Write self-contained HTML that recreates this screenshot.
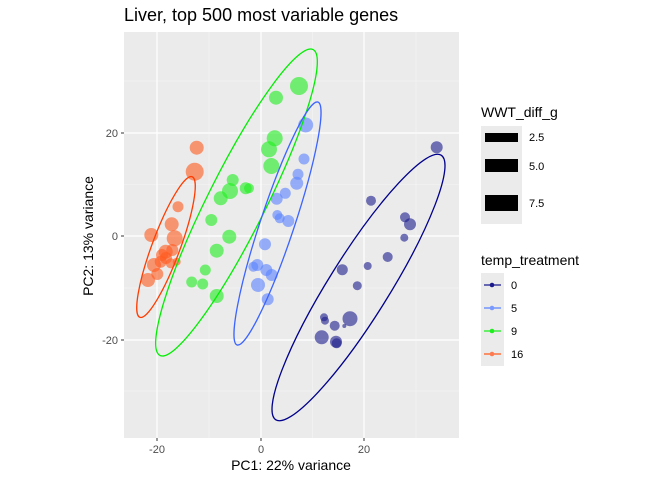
<!DOCTYPE html>
<html><head><style>body{margin:0;background:#fff}svg{display:block;font-family:"Liberation Sans",sans-serif}</style></head><body>
<svg width="672" height="480" viewBox="0 0 672 480">
<text x="124" y="21" font-size="18" fill="#000">Liver, top 500 most variable genes</text>
<rect x="124" y="32" width="335" height="406" fill="#ebebeb"/>
<g stroke="#f5f5f5" stroke-width="0.6">
<line x1="209" y1="32" x2="209" y2="438"/><line x1="312.5" y1="32" x2="312.5" y2="438"/><line x1="416" y1="32" x2="416" y2="438"/>
<line x1="124" y1="81" x2="459" y2="81"/><line x1="124" y1="184.5" x2="459" y2="184.5"/><line x1="124" y1="288" x2="459" y2="288"/><line x1="124" y1="391" x2="459" y2="391"/>
</g>
<g stroke="#fff" stroke-width="1.2">
<line x1="157" y1="32" x2="157" y2="438"/><line x1="261" y1="32" x2="261" y2="438"/><line x1="364" y1="32" x2="364" y2="438"/>
<line x1="124" y1="133" x2="459" y2="133"/><line x1="124" y1="236" x2="459" y2="236"/><line x1="124" y1="340" x2="459" y2="340"/>
</g>
<g fill="#ff5a1e" fill-opacity="0.6">
<circle cx="196.7" cy="147.7" r="7"/><circle cx="194.7" cy="171.7" r="9"/><circle cx="178" cy="206.7" r="5.5"/><circle cx="171.7" cy="224.3" r="7"/><circle cx="151.3" cy="235" r="7"/><circle cx="174.7" cy="238.3" r="8"/><circle cx="165.7" cy="251.7" r="7"/><circle cx="172.3" cy="250" r="6"/><circle cx="160.7" cy="261.7" r="6"/><circle cx="154" cy="265" r="7"/><circle cx="176.7" cy="261.7" r="4"/><circle cx="170.7" cy="263.3" r="5"/><circle cx="157.3" cy="274" r="6"/><circle cx="148" cy="280" r="7"/><circle cx="162" cy="255" r="6"/><circle cx="166" cy="258" r="6"/>
</g>
<g fill="#1eee1e" fill-opacity="0.6">
<circle cx="299" cy="86" r="9"/><circle cx="276" cy="97.7" r="7"/><circle cx="274.7" cy="138.3" r="8"/><circle cx="269" cy="149.3" r="8"/><circle cx="271.3" cy="166" r="8"/><circle cx="232.7" cy="180" r="6"/><circle cx="230" cy="191" r="8"/><circle cx="220.7" cy="198.3" r="7"/><circle cx="245.7" cy="188.3" r="6"/><circle cx="249" cy="188.3" r="5"/><circle cx="211.3" cy="220" r="6"/><circle cx="229.3" cy="236.7" r="7"/><circle cx="216.7" cy="250.7" r="7"/><circle cx="205.3" cy="270" r="5.5"/><circle cx="191.7" cy="282" r="5.5"/><circle cx="202.7" cy="284" r="5.5"/><circle cx="216.7" cy="296" r="7"/>
</g>
<g fill="#5a82ff" fill-opacity="0.6">
<circle cx="305.7" cy="125" r="7.5"/><circle cx="304" cy="159" r="5.5"/><circle cx="298" cy="174.3" r="5.5"/><circle cx="296.7" cy="183.3" r="6.5"/><circle cx="285.3" cy="193.3" r="5.5"/><circle cx="276.7" cy="198.7" r="6"/><circle cx="277.3" cy="215" r="5"/><circle cx="279.7" cy="218.3" r="5"/><circle cx="288.3" cy="221" r="6"/><circle cx="265" cy="244.3" r="6"/><circle cx="257.3" cy="265" r="6"/><circle cx="253.3" cy="266.7" r="5"/><circle cx="266.3" cy="270" r="6"/><circle cx="271.7" cy="275" r="6"/><circle cx="258" cy="285" r="7"/><circle cx="267.7" cy="299.3" r="6"/>
</g>
<g fill="#1a1a8c" fill-opacity="0.6">
<circle cx="436.7" cy="147.3" r="6"/><circle cx="371" cy="200.7" r="5"/><circle cx="405" cy="217.3" r="5"/><circle cx="410" cy="224.3" r="6"/><circle cx="404.3" cy="237.7" r="4"/><circle cx="387.7" cy="257" r="5"/><circle cx="367.7" cy="266" r="4"/><circle cx="342.3" cy="269.7" r="5.5"/><circle cx="357.3" cy="285.7" r="4.5"/><circle cx="350" cy="318.7" r="7.5"/><circle cx="324" cy="317.3" r="4"/><circle cx="325" cy="320.7" r="4"/><circle cx="334.7" cy="325.7" r="5"/><circle cx="344.3" cy="326" r="2"/><circle cx="321.7" cy="337.3" r="7"/><circle cx="336" cy="341.7" r="6"/><circle cx="336.7" cy="343.3" r="5"/>
</g>
<g fill="none" stroke-width="1.3">
<ellipse cx="166" cy="247" rx="75" ry="14" transform="rotate(-69.6 166 247)" stroke="#ff3c00"/>
<ellipse cx="236.5" cy="202.5" rx="171" ry="29" transform="rotate(-63.4 236.5 202.5)" stroke="#00ee00"/>
<ellipse cx="277.5" cy="223.5" rx="128" ry="17" transform="rotate(-71.6 277.5 223.5)" stroke="#3c64ff"/>
<ellipse cx="358.5" cy="287.5" rx="156" ry="30" transform="rotate(-58 358.5 287.5)" stroke="#00008b"/>
</g>
<g stroke="#333" stroke-width="1">
<line x1="157" y1="438" x2="157" y2="441"/><line x1="261" y1="438" x2="261" y2="441"/><line x1="364" y1="438" x2="364" y2="441"/>
<line x1="121" y1="133" x2="124" y2="133"/><line x1="121" y1="236" x2="124" y2="236"/><line x1="121" y1="340" x2="124" y2="340"/>
</g>
<g font-size="11" fill="#4d4d4d">
<text x="157" y="453" text-anchor="middle">-20</text><text x="261" y="453" text-anchor="middle">0</text><text x="364" y="453" text-anchor="middle">20</text>
<text x="118" y="137" text-anchor="end">20</text><text x="118" y="240" text-anchor="end">0</text><text x="118" y="344" text-anchor="end">-20</text>
</g>
<text x="291" y="470" font-size="14" text-anchor="middle">PC1: 22% variance</text>
<text transform="translate(93 236) rotate(-90)" font-size="14" text-anchor="middle">PC2: 13% variance</text>
<text x="481" y="117" font-size="14">WWT_diff_g</text>
<rect x="481" y="126" width="41" height="98" fill="#ebebeb"/>
<rect x="485" y="133" width="33" height="9" fill="#000"/>
<rect x="485" y="159" width="33" height="13" fill="#000"/>
<rect x="485" y="195" width="33" height="16" fill="#000"/>
<g font-size="11"><text x="529" y="141">2.5</text><text x="529" y="170">5.0</text><text x="529" y="207">7.5</text></g>
<text x="481" y="265" font-size="14">temp_treatment</text>
<rect x="481" y="273" width="23" height="93" fill="#ebebeb"/>
<g stroke-width="1.3">
<line x1="484" y1="285" x2="501" y2="285" stroke="#1a1a8c"/><circle cx="492" cy="285" r="2.3" fill="#1a1a8c"/>
<line x1="484" y1="308" x2="501" y2="308" stroke="#5a82ff"/><circle cx="492" cy="308" r="2.3" fill="#7a9aff"/>
<line x1="484" y1="331" x2="501" y2="331" stroke="#1eee1e"/><circle cx="492" cy="331" r="2.3" fill="#1eee1e"/>
<line x1="484" y1="354" x2="501" y2="354" stroke="#ff5a1e"/><circle cx="492" cy="354" r="2.3" fill="#ff7a4e"/>
</g>
<g font-size="11"><text x="511" y="289">0</text><text x="511" y="312">5</text><text x="511" y="335">9</text><text x="511" y="358">16</text></g>
</svg>
</body></html>
